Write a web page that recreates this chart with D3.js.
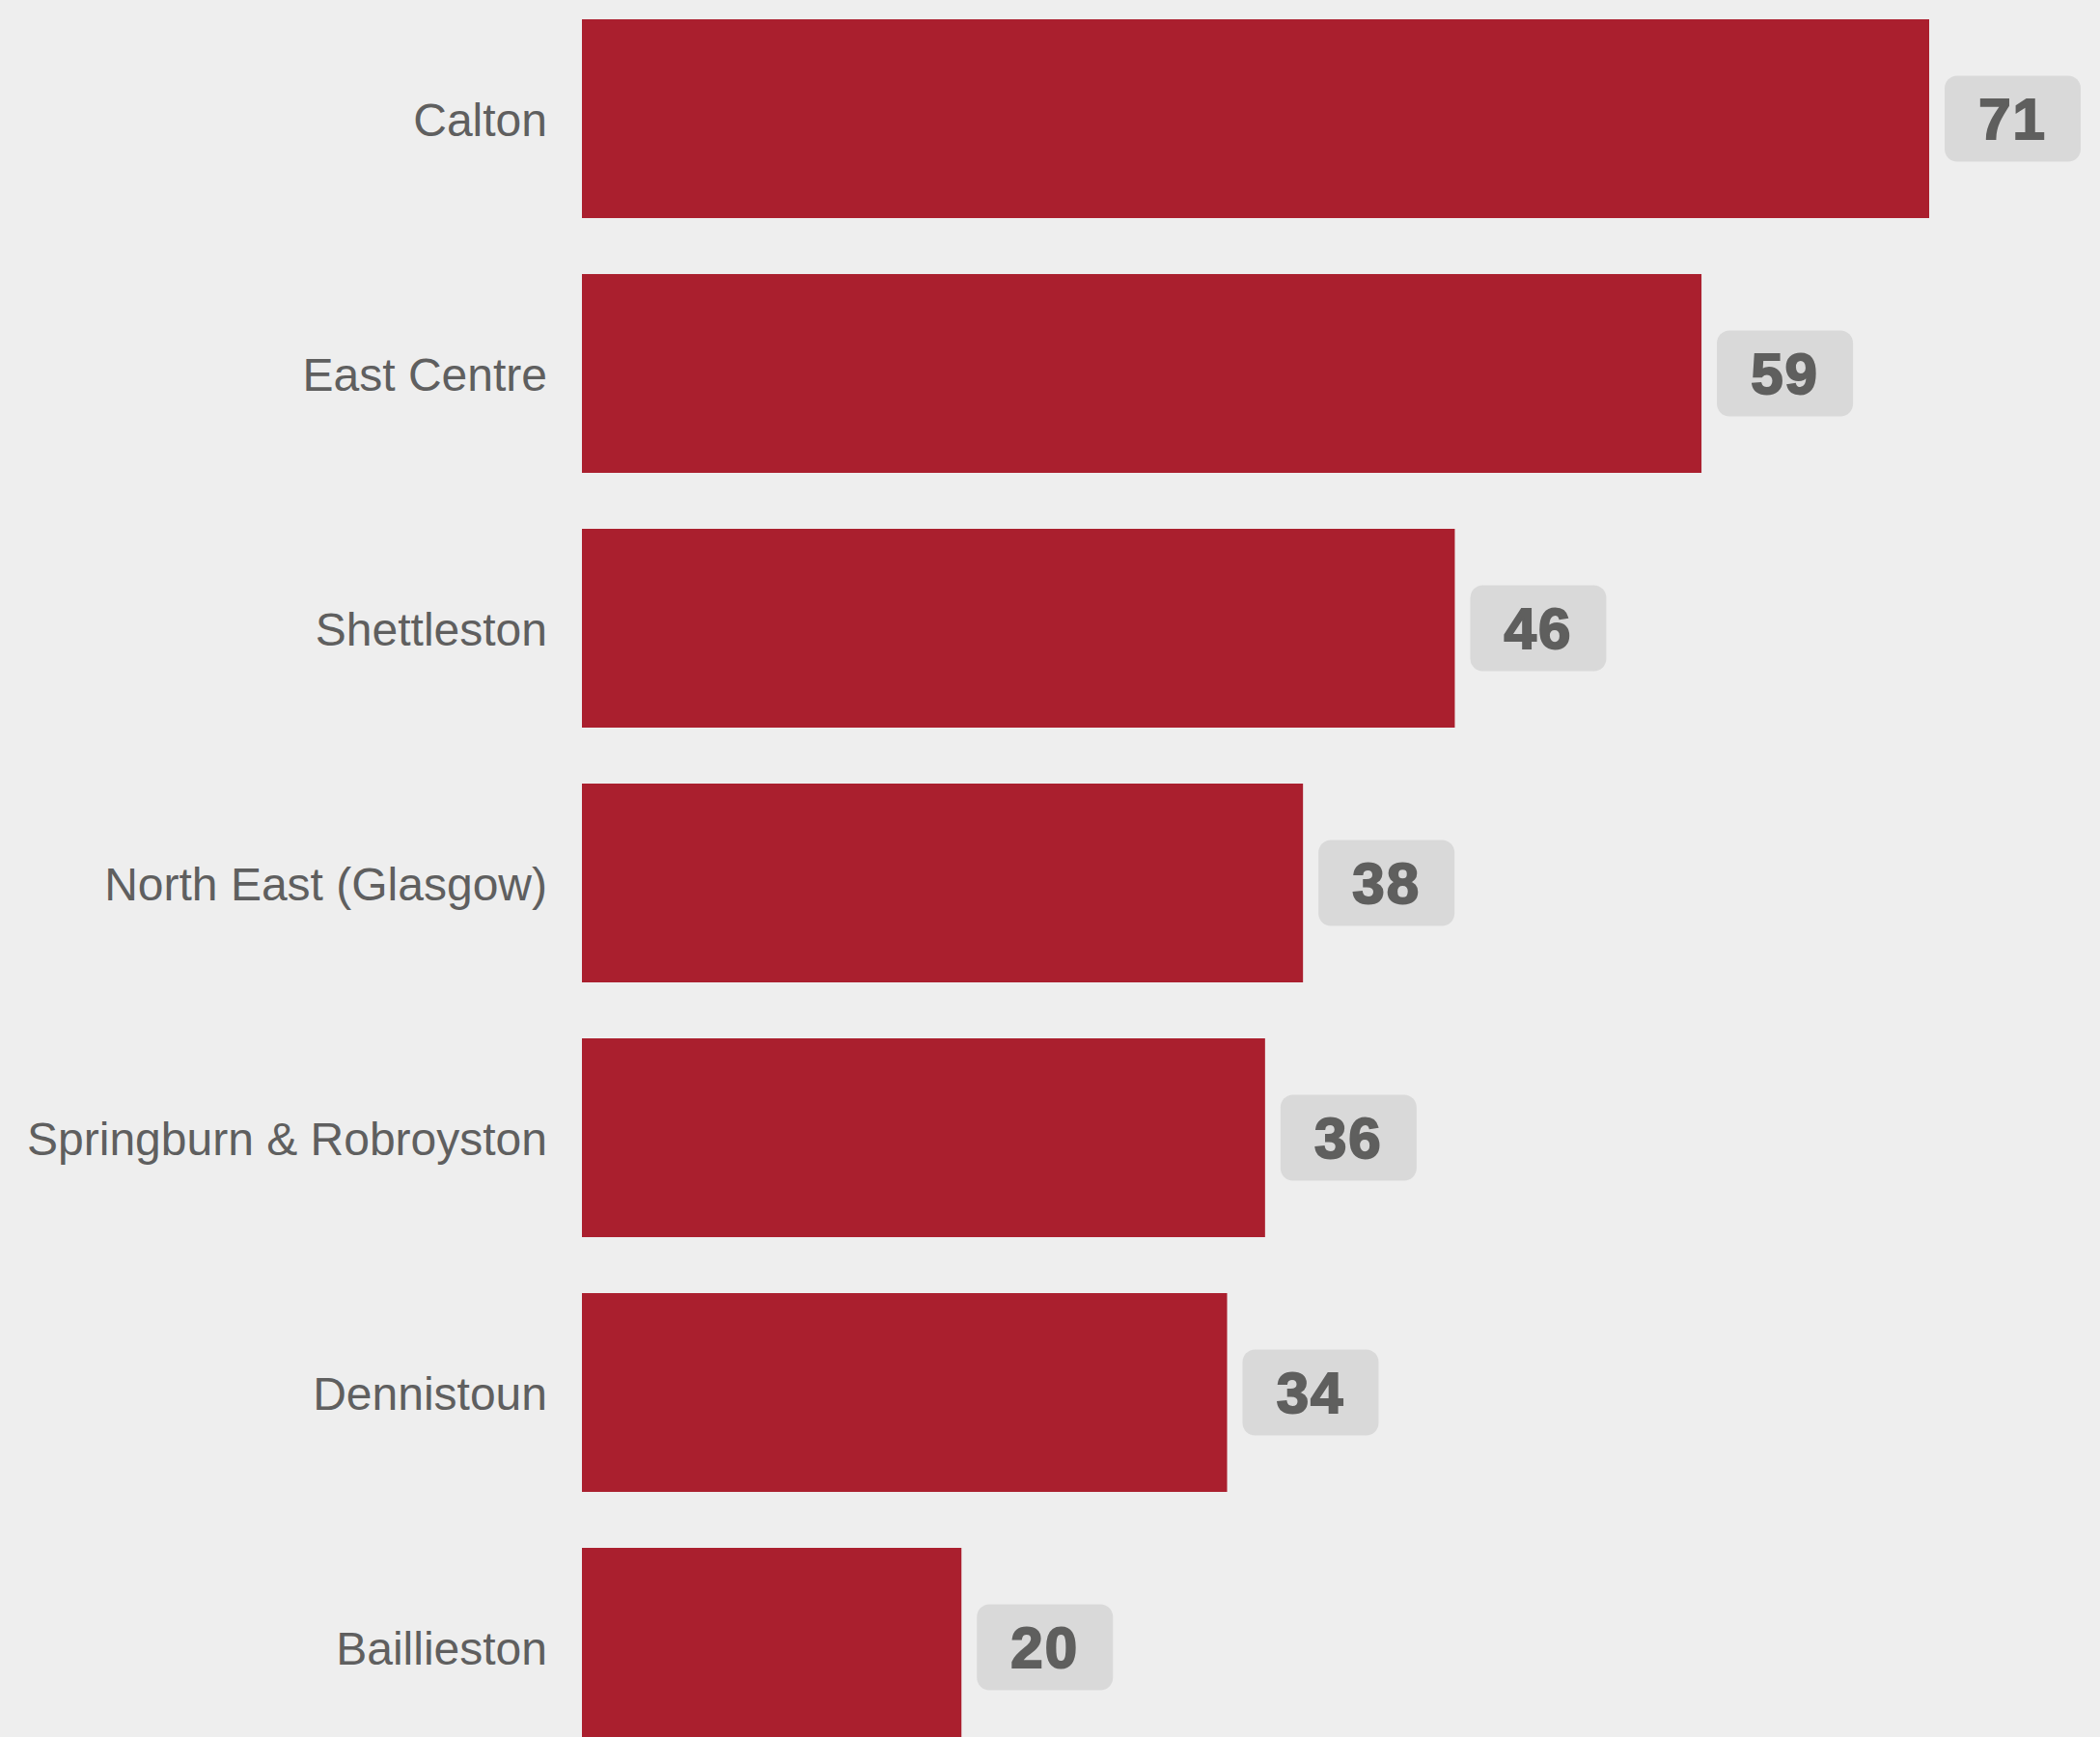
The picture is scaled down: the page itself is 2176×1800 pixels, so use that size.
<!DOCTYPE html>
<html>
<head>
<meta charset="utf-8">
<script src="https://cdn.jsdelivr.net/npm/d3@7"></script>
<style>
  html, body { margin: 0; padding: 0; background: #eeeeee; }
  svg { display: block; }
</style>
</head>
<body>
<svg id="chart" width="2176" height="1800"></svg>
<script>
const categories = ["Calton", "East Centre", "Shettleston", "North East (Glasgow)", "Springburn & Robroyston", "Dennistoun", "Baillieston"];
const values = [71, 59, 46, 38, 36, 34, 20];

const W = 2176, H = 1800;
const svg = d3.select("#chart");
svg.append("rect").attr("width", W).attr("height", H).attr("fill", "#eeeeee");

const x = d3.scaleLinear().domain([0, d3.max(values)]).range([603, 1999]);
const y = d3.scaleBand().domain(categories).range([-9, 1839]).paddingInner(0.2197).paddingOuter(0.1098);

const data = categories.map((c, i) => ({ c, v: values[i] }));

svg.selectAll("rect.bar").data(data).join("rect")
  .attr("class", "bar")
  .attr("x", x(0))
  .attr("y", d => y(d.c))
  .attr("width", d => x(d.v) - x(0))
  .attr("height", y.bandwidth())
  .attr("fill", "#aa1f2e");

svg.selectAll("text.cat").data(data).join("text")
  .attr("class", "cat")
  .attr("x", 567)
  .attr("y", d => y(d.c) + y.bandwidth() / 2)
  .attr("dy", "0.38em")
  .attr("text-anchor", "end")
  .attr("font-family", "'Liberation Sans', Arial, sans-serif")
  .attr("font-size", 48)
  .attr("fill", "#5f5f5f")
  .text(d => d.c);

const boxW = 141, boxH = 89, gap = 16;
const lab = svg.selectAll("g.lab").data(data).join("g")
  .attr("class", "lab")
  .attr("transform", d => `translate(${x(d.v) + gap},${y(d.c) + y.bandwidth() / 2})`);

lab.append("rect")
  .attr("x", 0).attr("y", -boxH / 2)
  .attr("width", boxW).attr("height", boxH)
  .attr("rx", 13).attr("ry", 13)
  .attr("fill", "#d9d9d9");

lab.append("text")
  .attr("x", boxW / 2)
  .attr("y", 0)
  .attr("dy", "0.35em")
  .attr("text-anchor", "middle")
  .attr("font-family", "'Liberation Sans', Arial, sans-serif")
  .attr("font-weight", "bold")
  .attr("font-size", 60)
  .attr("letter-spacing", 2)
  .attr("fill", "#5f5f5e")
  .attr("stroke", "#5f5f5e")
  .attr("stroke-width", 2)
  .text(d => d.v);
</script>
</body>
</html>
